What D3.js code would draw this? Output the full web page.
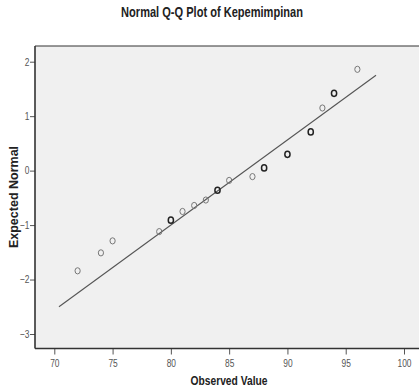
<!DOCTYPE html>
<html>
<head>
<meta charset="utf-8">
<script src="https://cdn.jsdelivr.net/npm/d3@7"></script>
<style>
  html, body { margin: 0; padding: 0; background: #ffffff; }
  svg { display: block; }
</style>
</head>
<body>
<svg id="chart" width="419" height="392"></svg>
<script>
// Observed scores (sorted) and their expected normal quantiles
const observed = [72, 74, 75, 79, 80, 81, 82, 83, 84, 85, 87, 88, 90, 92, 93, 94, 96];
const expected = [-1.84, -1.51, -1.29, -1.12, -0.91, -0.75, -0.64, -0.54, -0.36, -0.18, -0.11, 0.05, 0.30, 0.71, 1.15, 1.42, 1.86];
// Number of cases sharing each observed value (ties are drawn darker)
const counts = [1, 1, 1, 1, 2, 1, 1, 1, 2, 1, 1, 2, 2, 2, 1, 2, 1];

// Reference line: standard normal fitted with sample mean and SD
const lineMean = 86.4;
const lineSd = 6.4;
const lineRange = [70.4, 97.6];

const xTicks = [70, 75, 80, 85, 90, 95, 100];
const yTicks = [-3, -2, -1, 0, 1, 2];

const FONT = "Liberation Sans, Arial, sans-serif";
const svg = d3.select("#chart");

const plot = { left: 35, top: 46, right: 425, bottom: 348.5 };

const x = d3.scaleLinear().domain([70, 100]).range([54.3, 404]);
const y = d3.scaleLinear().domain([-3, 2]).range([334, 61.7]);

// Plot background
svg.append("rect")
  .attr("x", plot.left).attr("y", plot.top)
  .attr("width", plot.right - plot.left)
  .attr("height", plot.bottom - plot.top)
  .attr("fill", "#f0f0f0");

// Top frame line
svg.append("line")
  .attr("x1", plot.left).attr("x2", plot.right)
  .attr("y1", plot.top).attr("y2", plot.top)
  .attr("stroke", "#333").attr("stroke-width", 1.2);

// Axes
const xAxis = d3.axisBottom(x).tickValues(xTicks).tickSize(6).tickSizeOuter(0).tickFormat(d3.format("d"));
const yAxis = d3.axisLeft(y).tickValues(yTicks).tickSize(5).tickSizeOuter(0).tickFormat(d3.format("d"));

const gx = svg.append("g")
  .attr("transform", `translate(0,${plot.bottom})`)
  .call(xAxis);
gx.select(".domain").remove();
gx.append("line")
  .attr("x1", plot.left).attr("x2", plot.right)
  .attr("stroke", "#333").attr("stroke-width", 1.6);
gx.selectAll(".tick line").attr("stroke", "#555").attr("stroke-width", 1);
gx.selectAll(".tick text")
  .attr("font-family", FONT)
  .attr("font-size", 10.5).attr("fill", "#555")
  .attr("dy", "0.9em")
  .attr("transform", "scale(0.8,1)");

const gy = svg.append("g")
  .attr("transform", `translate(${plot.left},0)`)
  .call(yAxis);
gy.select(".domain").remove();
gy.append("line")
  .attr("y1", plot.top).attr("y2", plot.bottom)
  .attr("stroke", "#333").attr("stroke-width", 1.6);
gy.selectAll(".tick line").attr("stroke", "#555").attr("stroke-width", 1);
gy.selectAll(".tick text")
  .attr("font-family", FONT)
  .attr("font-size", 10.5).attr("fill", "#555")
  .attr("x", -7)
  .attr("transform", "scale(0.8,1)");

// Reference line
svg.append("line")
  .attr("x1", x(lineRange[0])).attr("y1", y((lineRange[0] - lineMean) / lineSd))
  .attr("x2", x(lineRange[1])).attr("y2", y((lineRange[1] - lineMean) / lineSd))
  .attr("stroke", "#555").attr("stroke-width", 1.1);

// Points
svg.append("g").selectAll("ellipse")
  .data(observed.map((v, i) => ({ v, q: expected[i], n: counts[i] })))
  .join("ellipse")
  .attr("cx", d => x(d.v))
  .attr("cy", d => y(d.q))
  .attr("rx", 2.6).attr("ry", 3.1)
  .attr("fill", "none")
  .attr("stroke", d => d.n > 1 ? "#222" : "#777")
  .attr("stroke-width", d => d.n > 1 ? 1.5 : 1);

// Titles (condensed horizontally)
svg.append("text")
  .attr("transform", "translate(212,17) scale(0.79,1)")
  .attr("text-anchor", "middle")
  .attr("font-family", FONT)
  .attr("font-size", 14).attr("font-weight", "bold").attr("fill", "#222")
  .text("Normal Q-Q Plot of Kepemimpinan");

svg.append("text")
  .attr("transform", "translate(229,385) scale(0.82,1)")
  .attr("text-anchor", "middle")
  .attr("font-family", FONT)
  .attr("font-size", 12.5).attr("font-weight", "bold").attr("fill", "#222")
  .text("Observed Value");

svg.append("text")
  .attr("transform", "translate(18,197) rotate(-90)")
  .attr("text-anchor", "middle")
  .attr("font-family", FONT)
  .attr("font-size", 12.5).attr("font-weight", "bold").attr("fill", "#222")
  .text("Expected Normal");
</script>
</body>
</html>
